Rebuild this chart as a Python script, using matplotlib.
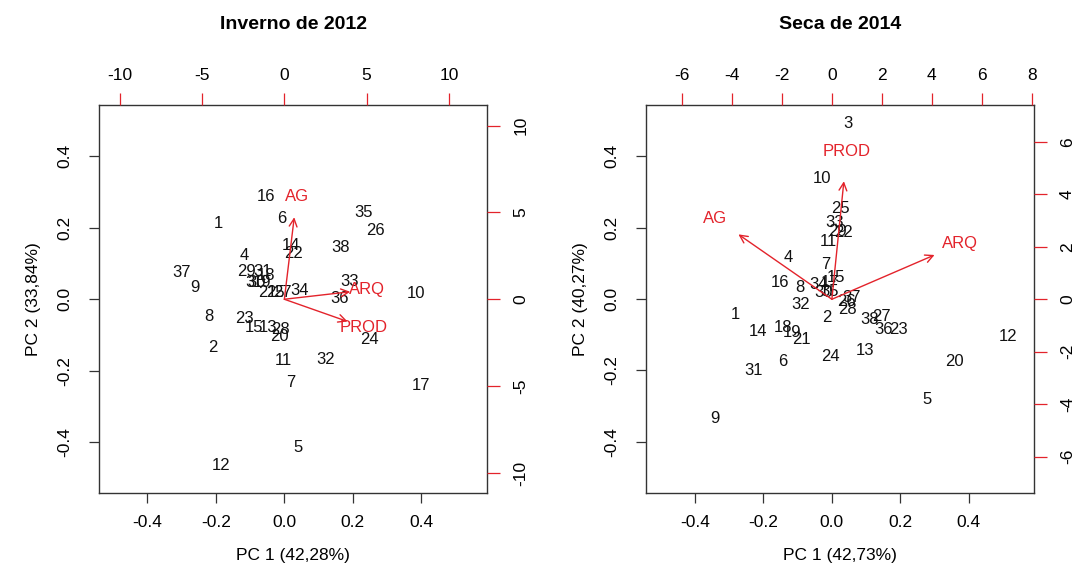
import numpy as np
import matplotlib
matplotlib.use("Agg")
import matplotlib.pyplot as plt

plt.rcParams["font.family"] = ["Liberation Sans", "DejaVu Sans"]
plt.rcParams["axes.unicode_minus"] = False

RED = "#e3232b"

# Inverno de 2012: scores (PC1, PC2) and variable loadings (label positions)
win_ids = [1, 2, 3, 4, 5, 6, 7, 8, 9, 10, 11, 12, 13, 14, 15, 16, 17, 18, 19,
           20, 21, 22, 23, 24, 25, 26, 27, 28, 29, 30, 31, 32, 33, 34, 35, 36, 37, 38]
win_pc1 = [-0.193, -0.208, -0.100, -0.118, 0.039, -0.006, 0.019, -0.219, -0.261,
           0.386, -0.003, -0.186, -0.048, 0.021, -0.088, -0.054, 0.399, -0.053,
           -0.065, -0.013, -0.048, 0.028, -0.115, 0.248, -0.025, 0.267, -0.004,
           -0.010, -0.110, -0.080, -0.062, 0.120, 0.190, 0.046, 0.232, 0.162,
           -0.300, 0.164]
win_pc2 = [0.213, -0.134, 0.048, 0.121, -0.414, 0.227, -0.233, -0.049, 0.034,
           0.017, -0.172, -0.466, -0.078, 0.150, -0.078, 0.287, -0.240, 0.065,
           0.048, -0.105, 0.020, 0.129, -0.055, -0.112, 0.020, 0.191, 0.020,
           -0.086, 0.077, 0.048, 0.077, -0.168, 0.049, 0.024, 0.241, 0.003,
           0.076, 0.144]
win_vars = ["AG", "ARQ", "PROD"]
win_load1 = [0.75, 5.0, 4.8]
win_load2 = [5.9, 0.54, -1.6]

# Seca de 2014
dry_ids = win_ids
dry_pc1 = [-0.283, -0.013, 0.046, -0.127, 0.280, -0.142, -0.018, -0.093, -0.342,
           -0.029, -0.010, 0.517, 0.097, -0.215, 0.013, -0.151, -0.005, -0.143,
           -0.117, 0.358, -0.088, 0.034, 0.195, -0.005, 0.026, 0.044, 0.146,
           0.046, 0.018, -0.025, -0.229, -0.091, 0.008, -0.039, -0.005, 0.151,
           0.059, 0.112]
dry_pc2 = [-0.044, -0.053, 0.492, 0.115, -0.282, -0.176, 0.096, 0.031, -0.335,
           0.336, 0.161, -0.105, -0.144, -0.091, 0.059, 0.045, 0.045, -0.079,
           -0.095, -0.174, -0.112, 0.186, -0.086, -0.162, 0.252, -0.007, -0.049,
           -0.028, 0.190, 0.017, -0.200, -0.016, 0.214, 0.040, 0.021, -0.086,
           0.003, -0.058]
dry_vars = ["AG", "ARQ", "PROD"]
dry_load1 = [-4.67, 5.13, 0.6]
dry_load2 = [3.09, 2.11, 5.62]

panels = [
    dict(title="Inverno de 2012", ids=win_ids, x=win_pc1, y=win_pc2,
         vars=win_vars, lx=win_load1, ly=win_load2,
         xlabel="PC 1 (42,28%)", ylabel="PC 2 (33,84%)",
         xlim=(-0.541, 0.592), ylim=(-0.542, 0.543),
         lxlim=(-11.26, 12.31), lylim=(-11.15, 11.18),
         top_ticks=[-10, -5, 0, 5, 10], right_ticks=[-10, -5, 0, 5, 10],
         pos=[99 / 1078, 1 - 493 / 582, 388 / 1078, 388 / 582]),
    dict(title="Seca de 2014", ids=dry_ids, x=dry_pc1, y=dry_pc2,
         vars=dry_vars, lx=dry_load1, ly=dry_load2,
         xlabel="PC 1 (42,73%)", ylabel="PC 2 (40,27%)",
         xlim=(-0.543, 0.590), ylim=(-0.543, 0.543),
         lxlim=(-7.43, 8.06), lylim=(-7.38, 7.40),
         top_ticks=[-6, -4, -2, 0, 2, 4, 6, 8], right_ticks=[-6, -4, -2, 0, 2, 4, 6],
         pos=[646 / 1078, 1 - 493 / 582, 387.5 / 1078, 388 / 582]),
]

fig = plt.figure(figsize=(10.78, 5.82), dpi=100)

for p in panels:
    ax = fig.add_axes(p["pos"])
    ax.set_xlim(p["xlim"])
    ax.set_ylim(p["ylim"])
    for i, xx, yy in zip(p["ids"], p["x"], p["y"]):
        ax.text(xx, yy, str(i), ha="center", va="center", fontsize=12, color="#111111")
    ax.set_xticks([-0.4, -0.2, 0.0, 0.2, 0.4])
    ax.set_yticks([-0.4, -0.2, 0.0, 0.2, 0.4])
    ax.xaxis.set_major_formatter(matplotlib.ticker.FormatStrFormatter("%.1f"))
    ax.yaxis.set_major_formatter(matplotlib.ticker.FormatStrFormatter("%.1f"))
    ax.tick_params(axis="both", length=7, width=0.9, color="#333333", labelsize=12.5)
    ax.tick_params(axis="x", pad=9)
    ax.tick_params(axis="y", pad=12)
    for lab in ax.get_yticklabels():
        lab.set_rotation(90)
        lab.set_va("center")
    for s in ax.spines.values():
        s.set_color("#333333")
        s.set_linewidth(1.0)
    ax.set_xlabel(p["xlabel"], fontsize=12.5, labelpad=13)
    ax.set_ylabel(p["ylabel"], fontsize=12.5, labelpad=12)
    ax.set_title(p["title"], fontsize=14, fontweight="bold", pad=55)

    # loadings on the secondary (top/right) axes
    ax2 = fig.add_axes(p["pos"], frameon=False)
    ax2.set_xlim(p["lxlim"])
    ax2.set_ylim(p["lylim"])
    ax2.xaxis.tick_top()
    ax2.yaxis.tick_right()
    ax2.set_xticks(p["top_ticks"])
    ax2.set_yticks(p["right_ticks"])
    ax2.tick_params(axis="both", length=9, width=0.9, color=RED,
                    labelcolor="black", labelsize=12.5)
    ax2.tick_params(axis="x", pad=7)
    ax2.tick_params(axis="y", pad=10)
    for lab in ax2.get_yticklabels():
        lab.set_rotation(90)
        lab.set_va("center")
    for v, lx, ly in zip(p["vars"], p["lx"], p["ly"]):
        ax2.annotate("", xy=(0.8 * lx, 0.8 * ly), xytext=(0, 0),
                     arrowprops=dict(arrowstyle="->", color=RED, lw=1.0,
                                     mutation_scale=14, shrinkA=0, shrinkB=0))
        ax2.text(lx, ly, v, color=RED, ha="center", va="center", fontsize=12)

fig.savefig("out.png", dpi=100)
